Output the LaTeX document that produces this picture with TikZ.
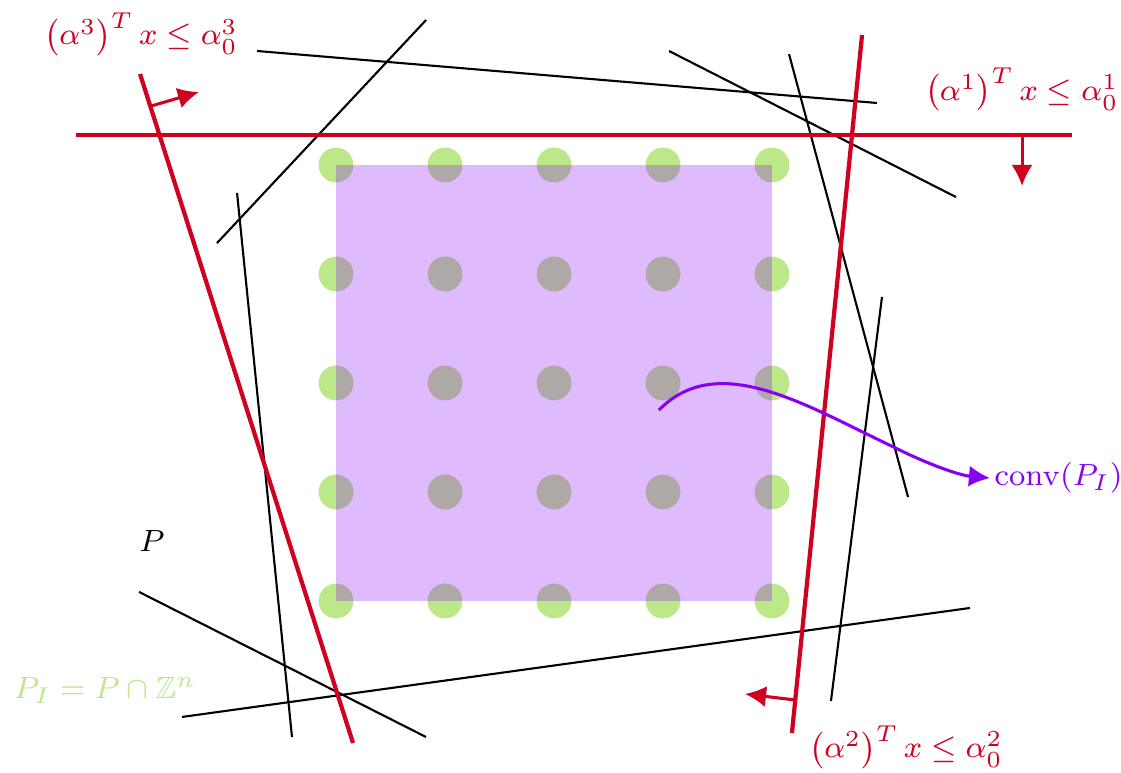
\documentclass[tikz,border=0pt]{standalone}
\usepackage{amssymb}
\usetikzlibrary{arrows.meta}

\definecolor{cutred}{RGB}{208,0,32}
\definecolor{hullpurple}{RGB}{136,0,244}
\definecolor{latgreen}{RGB}{189,232,138}

\begin{document}
\begin{tikzpicture}[
    every node/.style={font=\footnotesize},
    cut/.style={cutred, line width=1.1pt},
    cutarrow/.style={cutred, thick, -{Latex[length=5.5pt,width=5.5pt]}},
    facet/.style={black, line width=0.55pt},
    lattice/.style={fill=latgreen},
    hull/.style={fill=hullpurple, fill opacity=0.27},
    cutlabel/.style={text=cutred}
  ]
  \useasboundingbox (-3.083,-1.578) rectangle (7.202,5.514);

  % integer points and their hull
  \foreach \i in {0,...,4}
    \foreach \j in {0,...,4}
      \fill[lattice] (\i,\j) circle (0.16);
  \fill[hull] (0,0) rectangle (4,4);

  % facets of P
  \draw[facet] (-0.725,5.046) -- (4.963,4.569);
  \draw[facet] (-1.092,3.284) -- (0.826,5.330);
  \draw[facet] (3.055,5.046) -- (5.688,3.706);
  \draw[facet] (4.156,5.018) -- (5.248,0.954);
  \draw[facet] (5.009,2.789) -- (4.541,-0.917);
  \draw[facet] (-0.908,3.743) -- (-0.404,-1.248);
  \draw[facet] (-1.807,0.083) -- (0.826,-1.248);
  \draw[facet] (-1.413,-1.064) -- (5.817,-0.064);

  % cuts
  \draw[cut] (-2.385,4.275) -- (6.752,4.275);
  \draw[cut] (4.826,5.193) -- (4.183,-1.211);
  \draw[cut] (-1.798,4.835) -- (0.156,-1.303);

  \coordinate (c1) at (6.294,4.275);
  \coordinate (c1end) at (6.294,3.807);
  \coordinate (c2) at (4.211,-0.908);
  \coordinate (c2end) at (3.752,-0.853);
  \coordinate (c3) at (-1.697,4.541);
  \coordinate (c3end) at (-1.257,4.670);
  \draw[cutarrow] (c1) -- (c1end);
  \draw[cutarrow] (c2) -- (c2end);
  \draw[cutarrow] (c3) -- (c3end);

  % labels
  \node[cutlabel] (lab1) at (6.29,4.69) {$\left(\alpha^1\right)^T x \leq \alpha^1_0$};
  \node[cutlabel] (lab2) at (5.229,-1.339) {$\left(\alpha^2\right)^T x \leq \alpha^2_0$};
  \node[cutlabel] (lab3) at (-1.789,5.2) {$\left(\alpha^3\right)^T x \leq \alpha^3_0$};
  \node (P) at (-1.688,0.55) {$P$};
  \node[text=latgreen] (PI) at (-2.119,-0.817) {$P_I = P \cap \mathbb{Z}^n$};
  \node[text=hullpurple, anchor=west, inner sep=1pt] (conv) at (6.0,1.128) {$\mathrm{conv}(P_I)$};

  \coordinate (hullpt) at (2.963,1.752);
  \draw[hullpurple, thick, -{Latex[length=5.5pt,width=5.5pt]}]
    (hullpt) .. controls (3.5,2.3) and (4.3,1.8) .. (5.1,1.42)
             .. controls (5.5,1.22) and (5.75,1.15) .. (conv.west);
\end{tikzpicture}
\end{document}
